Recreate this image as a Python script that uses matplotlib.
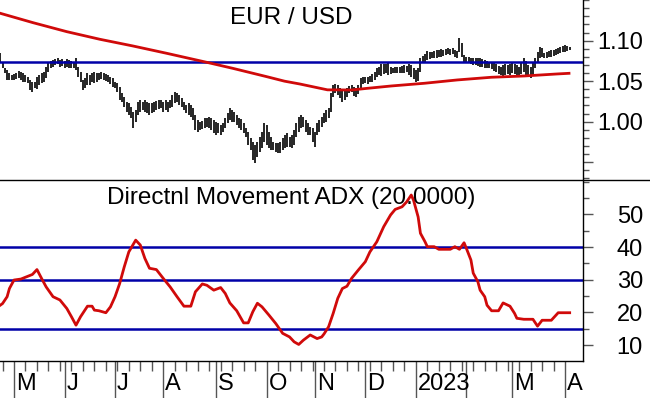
import numpy as np
import pandas as pd
import matplotlib
matplotlib.use('Agg')
import matplotlib.pyplot as plt
from matplotlib.lines import Line2D
from matplotlib.ticker import MultipleLocator

plt.rcParams['font.family'] = ['Liberation Sans', 'DejaVu Sans']

# daily EUR/USD bars, first bar 2022-04-22
start_day = '2022-04-22'
high = [1.0844, 1.0741, 1.0659, 1.0638, 1.0597, 1.0576, 1.0585, 1.0597, 1.0626, 1.0609,
        1.0597, 1.0576, 1.0556, 1.0514, 1.0494, 1.0494, 1.0556, 1.0576, 1.0597, 1.0617,
        1.0679, 1.0720, 1.0749, 1.0761, 1.0774, 1.0790, 1.0761, 1.0774, 1.0749, 1.0774,
        1.0761, 1.0749, 1.0741, 1.0782, 1.0679, 1.0617, 1.0514, 1.0535, 1.0597, 1.0576,
        1.0597, 1.0617, 1.0597, 1.0597, 1.0609, 1.0597, 1.0585, 1.0576, 1.0556, 1.0535,
        1.0494, 1.0473, 1.0432, 1.0350, 1.0309, 1.0247, 1.0226, 1.0185, 1.0124, 1.0144,
        1.0247, 1.0268, 1.0247, 1.0268, 1.0247, 1.0226, 1.0226, 1.0247, 1.0255, 1.0268,
        1.0268, 1.0247, 1.0268, 1.0247, 1.0268, 1.0329, 1.0362, 1.0350, 1.0329, 1.0288,
        1.0247, 1.0206, 1.0226, 1.0206, 1.0165, 1.0082, 1.0021, 1.0000, 1.0008, 1.0041,
        1.0050, 1.0062, 1.0041, 1.0021, 1.0000, 0.9980, 0.9959, 0.9980, 1.0041, 1.0103,
        1.0165, 1.0144, 1.0115, 1.0082, 1.0050, 1.0033, 0.9980, 0.9918, 0.9877, 0.9794,
        0.9753, 0.9712, 0.9753, 0.9815, 0.9877, 0.9980, 0.9959, 0.9877, 0.9815, 0.9753,
        0.9733, 0.9733, 0.9753, 0.9794, 0.9836, 0.9856, 0.9815, 0.9836, 0.9897, 0.9980,
        1.0062, 1.0082, 1.0062, 1.0021, 0.9980, 0.9938, 0.9918, 0.9877, 0.9980, 1.0021,
        1.0062, 1.0103, 1.0144, 1.0165, 1.0350, 1.0453, 1.0461, 1.0453, 1.0412, 1.0379,
        1.0379, 1.0412, 1.0445, 1.0453, 1.0432, 1.0412, 1.0453, 1.0535, 1.0556, 1.0556,
        1.0547, 1.0568, 1.0585, 1.0609, 1.0659, 1.0679, 1.0708, 1.0715, 1.0708, 1.0720,
        1.0679, 1.0666, 1.0679, 1.0670, 1.0679, 1.0691, 1.0699, 1.0691, 1.0708, 1.0699,
        1.0658, 1.0637, 1.0658, 1.0782, 1.0814, 1.0831, 1.0872, 1.0864, 1.0856, 1.0872,
        1.0884, 1.0884, 1.0897, 1.0889, 1.0897, 1.0905, 1.0897, 1.0905, 1.0884, 1.0872,
        1.1028, 1.0967, 1.0823, 1.0802, 1.0802, 1.0790, 1.0782, 1.0790, 1.0782, 1.0782,
        1.0773, 1.0761, 1.0749, 1.0740, 1.0732, 1.0720, 1.0708, 1.0691, 1.0679, 1.0699,
        1.0708, 1.0699, 1.0708, 1.0720, 1.0708, 1.0699, 1.0679, 1.0740, 1.0782, 1.0749,
        1.0699, 1.0679, 1.0720, 1.0782, 1.0864, 1.0926, 1.0905, 1.0843, 1.0856, 1.0872,
        1.0884, 1.0884, 1.0897, 1.0913, 1.0926, 1.0938, 1.0946, 1.0938, 1.0926]
low = [1.0720, 1.0659, 1.0597, 1.0514, 1.0514, 1.0514, 1.0514, 1.0527, 1.0535, 1.0514,
       1.0494, 1.0494, 1.0473, 1.0391, 1.0362, 1.0412, 1.0403, 1.0453, 1.0473, 1.0494,
       1.0543, 1.0617, 1.0659, 1.0679, 1.0700, 1.0708, 1.0679, 1.0691, 1.0659, 1.0679,
       1.0659, 1.0659, 1.0659, 1.0638, 1.0556, 1.0494, 1.0391, 1.0412, 1.0453, 1.0453,
       1.0494, 1.0473, 1.0494, 1.0514, 1.0527, 1.0514, 1.0502, 1.0494, 1.0461, 1.0432,
       1.0412, 1.0370, 1.0268, 1.0247, 1.0185, 1.0124, 1.0082, 1.0041, 0.9926, 1.0000,
       1.0082, 1.0124, 1.0144, 1.0124, 1.0103, 1.0082, 1.0103, 1.0124, 1.0144, 1.0156,
       1.0165, 1.0124, 1.0144, 1.0124, 1.0165, 1.0185, 1.0226, 1.0247, 1.0206, 1.0185,
       1.0144, 1.0103, 1.0082, 1.0062, 1.0021, 0.9897, 0.9877, 0.9897, 0.9910, 0.9918,
       0.9938, 0.9918, 0.9897, 0.9856, 0.9836, 0.9856, 0.9836, 0.9877, 0.9918, 0.9980,
       1.0021, 1.0000, 0.9992, 0.9959, 0.9918, 0.9897, 0.9856, 0.9815, 0.9712, 0.9650,
       0.9527, 0.9486, 0.9568, 0.9630, 0.9671, 0.9753, 0.9712, 0.9671, 0.9650, 0.9650,
       0.9630, 0.9609, 0.9609, 0.9650, 0.9671, 0.9691, 0.9691, 0.9671, 0.9712, 0.9815,
       0.9877, 0.9918, 0.9938, 0.9877, 0.9836, 0.9836, 0.9753, 0.9691, 0.9836, 0.9877,
       0.9938, 0.9980, 1.0000, 1.0041, 1.0124, 1.0309, 1.0350, 1.0329, 1.0288, 1.0247,
       1.0268, 1.0309, 1.0350, 1.0362, 1.0321, 1.0309, 1.0338, 1.0391, 1.0461, 1.0473,
       1.0465, 1.0486, 1.0494, 1.0514, 1.0556, 1.0576, 1.0560, 1.0590, 1.0596, 1.0576,
       1.0584, 1.0596, 1.0596, 1.0601, 1.0596, 1.0605, 1.0596, 1.0609, 1.0576, 1.0555,
       1.0526, 1.0493, 1.0502, 1.0617, 1.0720, 1.0740, 1.0761, 1.0773, 1.0782, 1.0790,
       1.0782, 1.0802, 1.0802, 1.0814, 1.0823, 1.0831, 1.0823, 1.0831, 1.0802, 1.0782,
       1.0864, 1.0802, 1.0740, 1.0732, 1.0720, 1.0708, 1.0699, 1.0699, 1.0691, 1.0679,
       1.0679, 1.0666, 1.0658, 1.0658, 1.0650, 1.0625, 1.0617, 1.0584, 1.0576, 1.0543,
       1.0576, 1.0584, 1.0576, 1.0596, 1.0584, 1.0576, 1.0555, 1.0584, 1.0617, 1.0576,
       1.0555, 1.0543, 1.0576, 1.0658, 1.0732, 1.0782, 1.0802, 1.0782, 1.0790, 1.0798,
       1.0802, 1.0814, 1.0823, 1.0831, 1.0843, 1.0856, 1.0864, 1.0872, 1.0884]

# long moving average (bar index, value)
ma_x = [0, 14.3, 29, 43.4, 57.7, 72.5, 89.9, 101.2, 116, 123.8, 130.5, 142.5, 153,
        160, 170.4, 184.7, 199, 213.8, 228.2, 242.5, 247.7]
ma_val = [1.1338, 1.1222, 1.1111, 1.1017, 1.0935, 1.0844, 1.0733, 1.0659, 1.0556, 1.0500,
          1.0465, 1.0393, 1.0391, 1.0412, 1.0441, 1.0474, 1.0515, 1.0548, 1.0564, 1.0589,
          1.0597]
price_level = 1.0735

# ADX(20) (bar index, value)
adx_x = [0, 1, 3, 4, 6, 9, 14, 16, 18, 20, 23, 26, 29, 31, 33, 35, 38, 40, 41, 43,
         46, 48, 50, 52, 54, 56, 59, 61, 63, 65, 68, 71, 74, 77, 80, 83, 85, 88, 90, 93,
         96, 98, 100, 103, 106, 108, 110, 112, 114, 117, 120, 123, 126, 128, 130, 132, 135, 138, 140, 141,
         143, 145, 147, 149, 151, 153, 156, 159, 161, 164, 167, 170, 172, 175, 177, 179, 180, 182, 183, 185,
         186, 189, 191, 196, 198, 200, 202, 203, 205, 206, 208, 209, 211, 212, 214, 217, 218, 219, 222, 224,
         225, 228, 232, 234, 236, 240, 243, 248]
adx_val = [22.2, 22.7, 24.8, 27.3, 29.9, 30.2, 31.6, 33.1, 30.4, 27.8, 24.8, 23.8, 21.2, 18.7, 16.1, 18.7, 21.9, 21.9, 20.7, 20.5,
           19.9, 21.7, 24.8, 28.8, 33.9, 38.5, 42.1, 40.6, 36.5, 33.5, 33.1, 30.4, 27.8, 24.8, 21.9, 21.9, 26.3, 28.7, 28.3, 26.8,
           27.6, 25.8, 22.9, 20.5, 16.8, 16.8, 20.2, 22.8, 21.7, 19.2, 16.6, 13.6, 12.5, 11.0, 10.2, 11.5, 13.1, 12.0, 12.5, 13.4,
           15.6, 19.7, 24.3, 27.3, 28.0, 30.4, 33.0, 35.5, 38.5, 41.6, 46.2, 49.8, 51.5, 52.3, 53.8, 55.9, 54.3, 49.2, 44.2, 41.6,
           40.1, 40.1, 39.3, 39.3, 40.1, 39.3, 41.3, 39.6, 36.0, 32.0, 29.4, 26.8, 24.8, 22.2, 20.5, 20.5, 21.7, 22.9, 21.9, 19.7,
           18.2, 17.9, 17.9, 15.8, 17.6, 17.6, 19.9, 19.9]
adx_levels = [15, 30, 40]

month_labels = ['M', 'J', 'J', 'A', 'S', 'O', 'N', 'D', '2023', '', 'M', 'A']

red = '#d00a0a'
blue = '#0000a8'
tick_col = '#555555'

dates = pd.bdate_range(start_day, periods=len(high))
x = np.arange(len(high))
month = dates.month.values
month_idx = [i for i in range(1, len(month)) if month[i] != month[i - 1]]
monday_idx = list(np.where(dates.dayofweek == 0)[0])

fig = plt.figure(figsize=(6.5, 3.98), dpi=100)
split = 1 - 180 / 398
bottom = 1 - 361 / 398
width = 583 / 650
ax1 = fig.add_axes([0, split, width, 1 - split])
ax2 = fig.add_axes([0, bottom, width, split - bottom])

# price panel
ax1.vlines(x, low, high, color='black', lw=1.2)
ax1.axhline(price_level, color=blue, lw=1.8)
ax1.plot(ma_x, ma_val, color=red, lw=2.0)
ax1.set_ylim(0.928, 1.1502)
ax1.set_yticks([0.95, 1.00, 1.05, 1.10], ['', '1.00', '1.05', '1.10'], ha='right')
ax1.yaxis.set_minor_locator(MultipleLocator(0.01))
ax1.text(0.5, 0.9, 'EUR / USD', transform=ax1.transAxes, ha='center', va='center',
         fontsize=17.5)
ax1.tick_params(axis='x', which='both', bottom=False, labelbottom=False)
ax1.spines['bottom'].set_visible(False)

# ADX panel
for lv in adx_levels:
    ax2.axhline(lv, color=blue, lw=1.8)
ax2.plot(adx_x, adx_val, color=red, lw=2.0)
ax2.set_ylim(5.14, 60.49)
ax2.set_yticks([10, 20, 30, 40, 50], ['10', '20', '30', '40', '50'], ha='right')
ax2.yaxis.set_minor_locator(MultipleLocator(5))
ax2.text(0.5, 0.9, 'Directnl Movement ADX (20.0000)', transform=ax2.transAxes,
         ha='center', va='center', fontsize=17.5)

ax2.set_xticks(month_idx)
ax2.set_xticks(monday_idx, minor=True)
ax2.tick_params(axis='x', which='major', length=26.6, width=1, color=tick_col,
                labelbottom=False)
ax2.tick_params(axis='x', which='minor', length=7.2, width=1, color=tick_col)
for idx, lab in zip(month_idx, month_labels):
    ax2.annotate(lab, xy=(idx, 0), xycoords=('data', 'axes fraction'),
                 xytext=(2, -23), textcoords='offset pixels', ha='left', va='center',
                 fontsize=17, annotation_clip=False)

for ax in (ax1, ax2):
    ax.set_xlim(-0.1, 253.8)
    ax.spines['left'].set_visible(False)
    ax.spines['top'].set_visible(False)
    ax.spines['right'].set_linewidth(1.0)
    ax.spines['bottom'].set_linewidth(1.0)
    ax.yaxis.tick_right()
    ax.tick_params(axis='y', which='major', length=7.2, width=1, color=tick_col,
                   pad=36, labelsize=17)
    ax.tick_params(axis='y', which='minor', length=4.3, width=1, color=tick_col)

fig.add_artist(Line2D([0, 1], [split, split], transform=fig.transFigure,
                      color='black', lw=1.0))

fig.savefig('out.png', dpi=100)
